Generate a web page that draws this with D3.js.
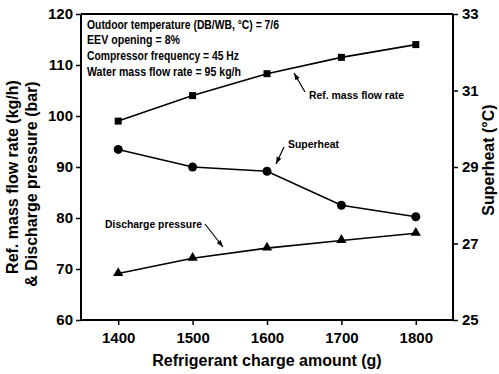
<!DOCTYPE html>
<html><head><meta charset="utf-8">
<script src="https://cdn.jsdelivr.net/npm/d3@7"></script>
<style>
body{margin:0;background:#fff;}
text{font-family:"Liberation Sans",Arial,sans-serif;font-weight:bold;fill:#000;}
</style></head>
<body><svg id="c" width="499" height="374"></svg>
<script>
const charge = [1400, 1500, 1600, 1700, 1800];
const massFlow = [99.0, 104.0, 108.3, 111.5, 114.0];
const dischargeP = [69.1, 72.1, 74.1, 75.6, 77.0];
const superheat = [29.46, 29.0, 28.89, 28.0, 27.7];
const leftTicks = [60, 70, 80, 90, 100, 110, 120];
const rightTicks = [25, 27, 29, 31, 33];
const xTicks = [1400, 1500, 1600, 1700, 1800];
const infoLines = ["Outdoor temperature (DB/WB, \u00B0C) = 7/6", "EEV opening = 8%", "Compressor frequency = 45 Hz", "Water mass flow rate = 95 kg/h"];

const svg = d3.select("#c");
const L = 81, R = 453, T = 14, B = 320;
const x = d3.scaleLinear().domain([1350, 1850]).range([L, R]);
const yL = d3.scaleLinear().domain([60, 120]).range([B, T]);
const yR = d3.scaleLinear().domain([25, 33]).range([B, T]);

// axes
const ax = svg.append("g").attr("transform", `translate(0,${B})`)
  .call(d3.axisBottom(x).tickValues(xTicks).tickSize(5).tickPadding(5).tickFormat(d3.format("d")));
const ayl = svg.append("g").attr("transform", `translate(${L},0)`)
  .call(d3.axisLeft(yL).tickValues(leftTicks).tickSize(5).tickPadding(3));
const ayr = svg.append("g").attr("transform", `translate(${R},0)`)
  .call(d3.axisRight(yR).tickValues(rightTicks).tickSize(5).tickPadding(4));
[ax, ayl, ayr].forEach(g => {
  g.select(".domain").attr("stroke", "#000").attr("stroke-width", 2);
  g.selectAll(".tick line").attr("stroke", "#000").attr("stroke-width", 1.5);
  g.selectAll(".tick text").style("font-size", "15px").style("font-family", "Liberation Sans,Arial,sans-serif").style("font-weight", "bold").attr("fill", "#000");
});
ax.select(".domain").attr("d", `M${L},0H${R}`);
ayl.select(".domain").attr("d", `M0,${B}V${T}`);
ayr.select(".domain").attr("d", `M0,${B}V${T}`);
ax.selectAll(".tick text").attr("dy", "0.85em");
// top frame line
svg.append("line").attr("x1", L).attr("x2", R).attr("y1", T).attr("y2", T).attr("stroke", "#000").attr("stroke-width", 2);

// series lines
const lineL = d3.line().x((d, i) => x(charge[i])).y(d => yL(d));
const lineR = d3.line().x((d, i) => x(charge[i])).y(d => yR(d));
svg.append("path").attr("d", lineL(massFlow)).attr("fill", "none").attr("stroke", "#000").attr("stroke-width", 1.6);
svg.append("path").attr("d", lineL(dischargeP)).attr("fill", "none").attr("stroke", "#000").attr("stroke-width", 1.6);
svg.append("path").attr("d", lineR(superheat)).attr("fill", "none").attr("stroke", "#000").attr("stroke-width", 1.6);

// markers
svg.selectAll(".sq").data(massFlow).enter().append("rect")
  .attr("x", (d, i) => x(charge[i]) - 3.5).attr("y", d => yL(d) - 3.5)
  .attr("width", 7).attr("height", 7).attr("fill", "#000");
svg.selectAll(".ci").data(superheat).enter().append("circle")
  .attr("cx", (d, i) => x(charge[i])).attr("cy", d => yR(d)).attr("r", 4.5).attr("fill", "#000");
const tri = d3.symbol().type(d3.symbolTriangle).size(45);
svg.selectAll(".tr").data(dischargeP).enter().append("path")
  .attr("d", tri).attr("transform", (d, i) => `translate(${x(charge[i])},${yL(d) - 0.5})`).attr("fill", "#000");

// info text
const infoLens = [192, 93, 152, 154];
infoLines.forEach((t, i) => {
  svg.append("text").attr("x", 87).attr("y", 28.5 + i * 15.7).text(t)
    .style("font-size", "12px").attr("textLength", infoLens[i]).attr("lengthAdjust", "spacingAndGlyphs");
});

// annotations
function annot(tx, ty, txt, len, x1, y1, x2, y2) {
  svg.append("text").attr("x", tx).attr("y", ty).text(txt).style("font-size", "11.5px")
    .attr("textLength", len).attr("lengthAdjust", "spacingAndGlyphs");
  svg.append("line").attr("x1", x1).attr("y1", y1).attr("x2", x2).attr("y2", y2).attr("stroke", "#000").attr("stroke-width", 1.2);
  const ang = Math.atan2(y2 - y1, x2 - x1);
  const hl = 7, hw = 2.5;
  const bx = x2 - hl * Math.cos(ang), by = y2 - hl * Math.sin(ang);
  const px = -Math.sin(ang) * hw, py = Math.cos(ang) * hw;
  svg.append("path").attr("d", `M${x2},${y2}L${bx + px},${by + py}L${bx - px},${by - py}Z`).attr("fill", "#000");
}
annot(309, 99, "Ref. mass flow rate", 95, 305, 92, 294, 73);
annot(288, 148, "Superheat", 51, 284, 147, 276, 164);
annot(105, 228, "Discharge pressure", 97, 205, 224, 223, 247);

// axis titles
svg.append("text").attr("transform", "translate(18,177) rotate(-90)").attr("text-anchor", "middle")
  .style("font-size", "16px").text("Ref. mass flow rate (kg/h)");
svg.append("text").attr("transform", "translate(37,184) rotate(-90)").attr("text-anchor", "middle")
  .style("font-size", "16px").text("& Discharge pressure (bar)");
svg.append("text").attr("transform", "translate(494,160) rotate(-90)").attr("text-anchor", "middle")
  .style("font-size", "16px").text("Superheat (\u00B0C)");
svg.append("text").attr("x", 267).attr("y", 366).attr("text-anchor", "middle")
  .style("font-size", "16px").text("Refrigerant charge amount (g)");
</script></body></html>
